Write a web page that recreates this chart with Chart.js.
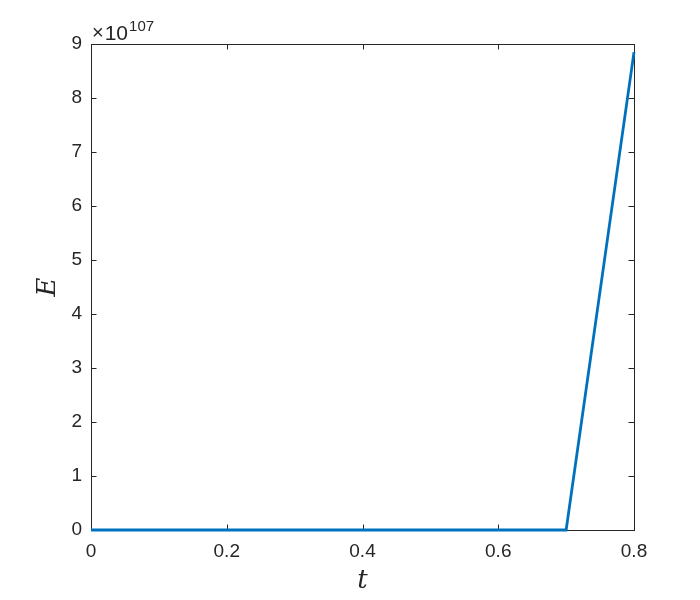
<!DOCTYPE html>
<html>
<head>
<meta charset="utf-8">
<title>E vs t</title>
<script src="https://cdn.jsdelivr.net/npm/chart.js"></script>
<style>
  body{margin:0;background:#fff}
  #chart{display:block}
</style>
</head>
<body>
<canvas id="chart" width="700" height="600"></canvas>
<script>
// E in units of 1e107
const tValues = [0, 0.1, 0.2, 0.3, 0.4, 0.5, 0.6, 0.7, 0.8];
const eValues = [0, 0, 0, 0, 0, 0, 0, 0, 8.85];
const xTicks  = [0, 0.2, 0.4, 0.6, 0.8];
const yTicks  = [0, 1, 2, 3, 4, 5, 6, 7, 8, 9];
const exponentPow = '107';

const axisColor = '#262626';
const tickFont = { family: 'Liberation Sans, Arial, sans-serif', size: 19 };

// MATLAB-ish box with inward ticks on all four sides
const boxPlugin = {
  id: 'box',
  beforeDatasetsDraw(chart){
    const {ctx, chartArea:a, scales:{x, y}} = chart;
    const len = 5.5;
    ctx.save();
    ctx.strokeStyle = axisColor;
    ctx.lineWidth = 1;
    ctx.strokeRect(a.left + 0.5, a.top + 0.5, a.right - a.left, a.bottom - a.top);
    ctx.beginPath();
    xTicks.forEach(v => {
      const px = Math.round(x.getPixelForValue(v)) + 0.5;
      ctx.moveTo(px, a.bottom); ctx.lineTo(px, a.bottom - len);
      ctx.moveTo(px, a.top); ctx.lineTo(px, a.top + len);
    });
    yTicks.forEach(v => {
      const py = Math.round(y.getPixelForValue(v)) + 0.5;
      ctx.moveTo(a.left, py); ctx.lineTo(a.left + len, py);
      ctx.moveTo(a.right, py); ctx.lineTo(a.right - len, py);
    });
    ctx.stroke();
    ctx.restore();
  },
  afterDraw(chart){
    const {ctx, chartArea:a} = chart;
    ctx.save();
    ctx.fillStyle = axisColor;
    ctx.textBaseline = 'alphabetic';
    ctx.font = '20px Liberation Sans, Arial, sans-serif';
    ctx.fillText('\u00d7', a.left + 1, a.top - 5);
    const wx = ctx.measureText('\u00d7').width;
    ctx.font = '21px Liberation Sans, Arial, sans-serif';
    ctx.fillText('10', a.left + 2 + wx, a.top - 4);
    const w = ctx.measureText('10').width;
    ctx.font = '15px Liberation Sans, Arial, sans-serif';
    ctx.fillText(exponentPow, a.left + 2 + wx + w + 1, a.top - 13);
    ctx.restore();
  }
};

new Chart(document.getElementById('chart'), {
  type: 'line',
  data: {
    datasets: [{
      data: tValues.map((t, i) => ({x: t, y: eValues[i]})),
      borderColor: '#0072BD',
      borderWidth: 2.8,
      pointRadius: 0,
      tension: 0,
      clip: false
    }]
  },
  options: {
    responsive: false,
    animation: false,
    layout: { padding: { left: 0, top: 44, right: 66, bottom: 0 } },
    plugins: { legend: { display: false }, tooltip: { enabled: false } },
    scales: {
      x: {
        type: 'linear',
        min: 0, max: 0.8,
        afterBuildTicks(s){ s.ticks = xTicks.map(v => ({value: v})); },
        afterFit(s){ s.height = 70; },
        grid: { display: false, drawTicks: false },
        border: { display: false },
        ticks: { color: axisColor, font: tickFont, padding: 10, maxRotation: 0,
                 callback: v => String(v) },
        title: { display: true, text: 't', color: axisColor,
                 font: { family: 'DejaVu Serif, Liberation Serif, serif', size: 26, style: 'italic' },
                 padding: { top: 0, bottom: 3 } }
      },
      y: {
        min: 0, max: 9,
        afterBuildTicks(s){ s.ticks = yTicks.map(v => ({value: v})); },
        afterFit(s){ s.width = 91; },
        grid: { display: false, drawTicks: false },
        border: { display: false },
        ticks: { color: axisColor, font: tickFont, padding: 9 },
        title: { display: true, text: 'E', color: axisColor,
                 font: { family: 'DejaVu Serif, Liberation Serif, serif', size: 26, style: 'italic' },
                 padding: { top: 33, bottom: 0 } }
      }
    }
  },
  plugins: [boxPlugin]
});
</script>
</body>
</html>
